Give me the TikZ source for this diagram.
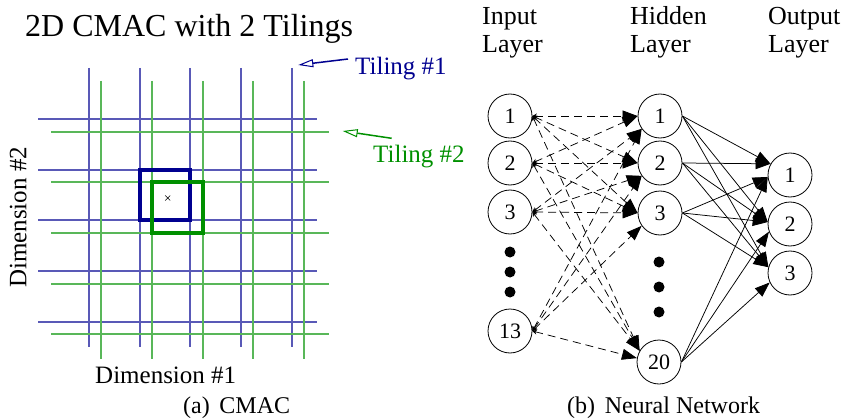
\documentclass[tikz,border=0pt]{standalone}
\usepackage{fontspec}
\setmainfont{Liberation Serif}
\usetikzlibrary{arrows.meta,calc}
\definecolor{tileone}{RGB}{0,0,144}
\definecolor{tiletwo}{RGB}{0,144,0}

\begin{document}
\begin{tikzpicture}[x=1pt,y=-1pt,
  gridone/.style={color=tileone!65!white,line width=1.1pt},
  gridtwo/.style={color=tiletwo!65!white,line width=1.1pt},
  cellbox/.style={line width=3.4pt},
  pointer/.style={line width=1.5pt,-{Triangle[open,length=15pt,width=8pt,line width=1pt,fill=white]}},
  unit/.style={circle,draw,line width=0.8pt,minimum size=44pt,inner sep=0pt,
    font=\fontsize{22}{22}\selectfont},
  inedge/.style={line width=0.75pt,dash pattern=on 8pt off 5pt,
    {Stealth[length=4.5pt,width=5pt]}-{Triangle[length=15pt,width=11pt]}},
  outedge/.style={line width=0.75pt,-{Triangle[length=15pt,width=11pt]}},
  bigtext/.style={font=\fontsize{32}{36}\selectfont,inner sep=0pt},
  headtext/.style={font=\fontsize{26}{30}\selectfont,inner sep=0pt},
  lbltext/.style={font=\fontsize{25}{28}\selectfont,inner sep=0pt},
  captext/.style={font=\fontsize{24}{28}\selectfont,inner sep=0pt},
  ellipsis/.style={fill=black}
]
\useasboundingbox (0,0) rectangle (852,420);

% ---------- CMAC: two offset tilings ----------
\node[bigtext,anchor=base west] (title) at (25,37) {2D CMAC with 2 Tilings};

% tiling 1 (blue) and tiling 2 (green), offset by a quarter cell
\foreach \x in {89,140,190,241,292}
  \draw[gridone] (\x,68) -- (\x,347);
\foreach \y in {119,170,220,271,322}
  \draw[gridone] (38,\y) -- (317,\y);
\foreach \x in {101,152,203,253,304}
  \draw[gridtwo] (\x,81) -- (\x,359);
\foreach \y in {132,182,233,284,334}
  \draw[gridtwo] (51,\y) -- (329,\y);

% active cells of each tiling
\draw[cellbox,draw=tileone] (140,170) rectangle (190,220);
\draw[cellbox,draw=tiletwo] (152,182) rectangle (203,233);

% input point
\draw[line width=0.6pt] (165.2,195.5) -- (170.2,200.5) (165.2,200.5) -- (170.2,195.5);

% tiling labels with pointers
\node[lbltext,anchor=base west,text=tileone] (tone) at (355,75) {Tiling \#1};
\node[lbltext,anchor=base west,text=tiletwo] (ttwo) at (373,162) {Tiling \#2};
\coordinate (tonefrom) at (348,59);
\coordinate (toneto) at (298.3,65);
\coordinate (ttwofrom) at (391.7,138.3);
\coordinate (ttwoto) at (342.7,131);
\draw[pointer,draw=tileone] (tonefrom) -- (toneto);
\draw[pointer,draw=tiletwo] (ttwofrom) -- (ttwoto);

\node[lbltext,anchor=base west] (dimone) at (95,383) {Dimension \#1};
\node[lbltext,anchor=base west,rotate=90] (dimtwo) at (26.5,288) {Dimension \#2};

\node[captext,anchor=base west] (capa) at (183,413) {(a)\hspace{0.4em}CMAC};

% ---------- Neural network ----------
\node[headtext,anchor=base west] (inhead) at (482,25) {Input};
\node[headtext,anchor=base west] (inheadb) at (482,53) {Layer};
\node[headtext,anchor=base west] (hidhead) at (630,25) {Hidden};
\node[headtext,anchor=base west] (hidheadb) at (630,53) {Layer};
\node[headtext,anchor=base west] (outhead) at (768,25) {Output};
\node[headtext,anchor=base west] (outheadb) at (768,53) {Layer};

\node[unit] (i1) at (510,116) {1};
\node[unit] (i2) at (510,163) {2};
\node[unit] (i3) at (510,212) {3};
\node[unit] (i13) at (510,331) {13};

\node[unit] (h1) at (660,116) {1};
\node[unit] (h2) at (660,163) {2};
\node[unit] (h3) at (660,213) {3};
\node[unit] (h20) at (659,362) {20};

\node[unit] (o1) at (790,175) {1};
\node[unit] (o2) at (790,224) {2};
\node[unit] (o3) at (790,273) {3};

\foreach \y in {252,272,292} \fill[ellipsis] (510,\y) circle (5.5);
\foreach \y in {262,287,312} \fill[ellipsis] (659,\y) circle (5.5);

% input -> hidden
\foreach \s/\t in {i1/h1.west, i2/h1.west, i3/h1.215, i13/h1.215,
                   i1/h2.west, i2/h2.west, i3/h2.215, i13/h2.215,
                   i1/h3.west, i2/h3.west, i3/h3.west, i13/h3.215,
                   i1/h20.150, i2/h20.150, i3/h20.150, i13/h20.170}
  \draw[inedge] (\s.east) -- (\t);

% hidden -> output
\foreach \s/\t in {h1/o1.150, h2/o1.150, h3/o1.185, h20/o1.185,
                   h1/o2.175, h2/o2.175, h3/o2.175, h20/o2.200,
                   h1/o3.165, h2/o3.165, h3/o3.165, h20/o3.205}
  \draw[outedge] (\s.east) -- (\t);

\node[captext,anchor=base west] (capb) at (567,413) {(b)\hspace{0.4em}Neural Network};
\end{tikzpicture}
\end{document}
